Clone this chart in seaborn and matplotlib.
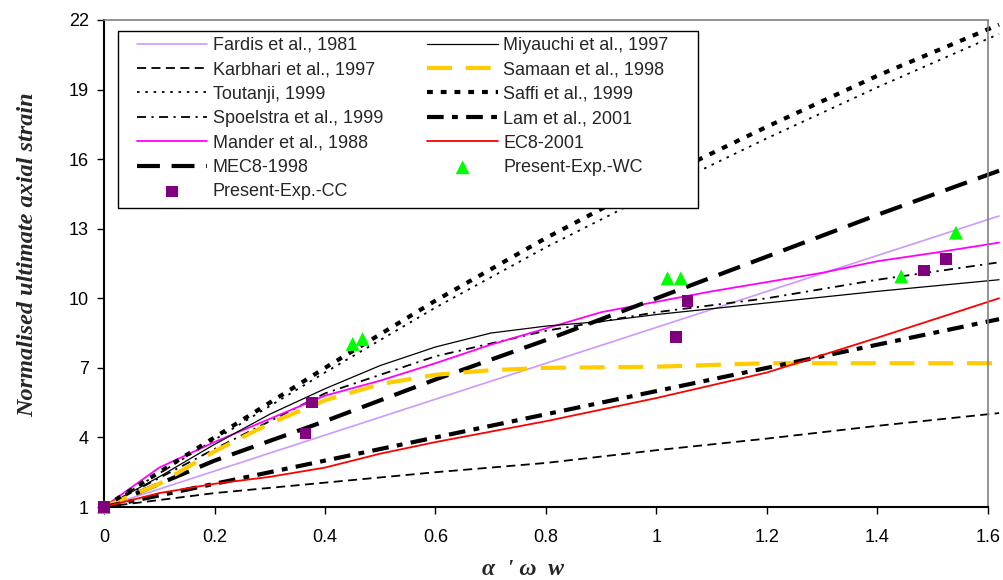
import matplotlib
matplotlib.use("Agg")
import matplotlib.pyplot as plt
from matplotlib.patches import Rectangle
import seaborn as sns
import numpy as np
import pandas as pd

sns.set_style("white")
plt.rcParams['font.family'] = ['Liberation Sans', 'DejaVu Sans']

# ---- data ----
x_fardis = [0, 1.62]
y_fardis = [1, 13.55]

x_miyauchi = [0, 0.1, 0.2, 0.3, 0.4, 0.5, 0.6, 0.7, 0.8, 0.9, 1.0, 1.2, 1.4, 1.62]
y_miyauchi = [1, 2.3, 3.7, 5.0, 6.1, 7.1, 7.9, 8.5, 8.8, 9.0, 9.3, 9.8, 10.3, 10.8]

x_karbhari = [0, 0.2, 0.4, 0.6, 0.8, 1.0, 1.2, 1.4, 1.62]
y_karbhari = [1, 1.6, 2.05, 2.5, 2.9, 3.45, 3.95, 4.5, 5.05]

x_samaan = [0, 0.1, 0.2, 0.3, 0.4, 0.5, 0.6, 0.7, 0.8, 1.0, 1.2, 1.62]
y_samaan = [1, 2.0, 3.4, 4.6, 5.6, 6.3, 6.7, 6.9, 7.0, 7.05, 7.2, 7.2]

x_toutanji = [0, 0.2, 0.4, 0.6, 0.8, 1.0, 1.2, 1.4, 1.62]
y_toutanji = [1, 3.9, 6.8, 9.6, 12.2, 14.6, 16.9, 19.1, 21.4]

x_saffi = [0, 0.2, 0.4, 0.6, 0.8, 1.0, 1.2, 1.4, 1.62]
y_saffi = [1, 4.0, 7.0, 9.9, 12.6, 15.1, 17.4, 19.6, 21.8]

x_spoelstra = [0, 0.2, 0.4, 0.6, 0.8, 1.0, 1.2, 1.4, 1.62]
y_spoelstra = [1, 3.5, 5.9, 7.5, 8.6, 9.4, 10.0, 10.8, 11.55]

x_lam = [0, 0.4, 0.8, 1.2, 1.62]
y_lam = [1, 3.0, 5.0, 7.0, 9.1]

x_mander = [0, 0.1, 0.2, 0.3, 0.4, 0.5, 0.6, 0.7, 0.8, 0.9, 1.0, 1.1, 1.2, 1.3, 1.4, 1.5, 1.62]
y_mander = [1, 2.7, 3.8, 4.8, 5.8, 6.45, 7.2, 8.0, 8.7, 9.4, 9.85, 10.3, 10.7, 11.1, 11.6, 11.95, 12.4]

x_ec8 = [0, 0.1, 0.2, 0.3, 0.4, 0.5, 0.6, 0.8, 1.0, 1.2, 1.4, 1.62]
y_ec8 = [1, 1.6, 2.0, 2.3, 2.7, 3.3, 3.8, 4.7, 5.7, 6.8, 8.3, 10.0]

x_mec8 = [0, 0.2, 0.4, 0.6, 0.8, 1.0, 1.2, 1.4, 1.62]
y_mec8 = [1, 3.0, 4.7, 6.5, 8.2, 10.0, 11.8, 13.6, 15.5]

x_wc = [0, 0.45, 0.468, 1.02, 1.044, 1.443, 1.542]
y_wc = [1, 8.03, 8.24, 10.86, 10.86, 10.94, 12.83]

x_cc = [0, 0.365, 0.377, 1.035, 1.056, 1.484, 1.524]
y_cc = [1, 4.17, 5.5, 8.33, 9.87, 11.2, 11.7]

y_ticks = [1, 4, 7, 10, 13, 16, 19, 22]
x_ticks = [0, 0.2, 0.4, 0.6, 0.8, 1.0, 1.2, 1.4, 1.6]
x_ticklabels = ["0", "0.2", "0.4", "0.6", "0.8", "1", "1.2", "1.4", "1.6"]

# ---- figure ----
W, H = 1004, 580
fig = plt.figure(figsize=(W / 100, H / 100), dpi=100)
AX_L, AX_R, AX_T, AX_B = 104, 988, 20, 507
ax = fig.add_axes([AX_L / W, 1 - AX_B / H, (AX_R - AX_L) / W, (AX_B - AX_T) / H])
aw, ah = AX_R - AX_L, AX_B - AX_T

series = [
    ("Fardis et al., 1981", x_fardis, y_fardis, dict(color="#CC99FF", lw=1.2, ls="-")),
    ("Karbhari et al., 1997", x_karbhari, y_karbhari, dict(color="black", lw=1.3, ls=(0, (5, 3)))),
    ("Toutanji, 1999", x_toutanji, y_toutanji, dict(color="black", lw=1.3, ls=(0, (1.4, 3.2)))),
    ("Spoelstra et al., 1999", x_spoelstra, y_spoelstra, dict(color="black", lw=1.3, ls=(0, (5, 3, 1.2, 3)))),
    ("Mander et al., 1988", x_mander, y_mander, dict(color="#FF00FF", lw=1.3, ls="-")),
    ("MEC8-1998", x_mec8, y_mec8, dict(color="black", lw=3.0, ls=(0, (5.5, 2.8)))),
    ("Miyauchi et al., 1997", x_miyauchi, y_miyauchi, dict(color="black", lw=0.9, ls="-")),
    ("Samaan et al., 1998", x_samaan, y_samaan, dict(color="#FFCC00", lw=3.0, ls=(0, (6, 3.3)))),
    ("Saffi et al., 1999", x_saffi, y_saffi, dict(color="black", lw=3.0, ls=(0, (1.4, 1.9)))),
    ("Lam et al., 2001", x_lam, y_lam, dict(color="black", lw=3.0, ls=(0, (4, 2, 1.4, 2)))),
    ("EC8-2001", x_ec8, y_ec8, dict(color="#FF0000", lw=1.3, ls="-")),
]

for name, xs, ys, st in series:
    df = pd.DataFrame({"x": xs, "y": ys})
    sns.lineplot(data=df, x="x", y="y", ax=ax, color=st["color"], linewidth=st["lw"],
                 linestyle=st["ls"], label=name, clip_on=False, legend=False,
                 estimator=None, sort=False)

sns.scatterplot(x=x_wc, y=y_wc, ax=ax, marker="^", s=100, color="#00FF00",
                edgecolor="none", label="Present-Exp.-WC", clip_on=False, zorder=5, legend=False)
sns.scatterplot(x=x_cc, y=y_cc, ax=ax, marker="s", s=70, color="#800080",
                edgecolor="none", label="Present-Exp.-CC", clip_on=False, zorder=6, legend=False)

ax.set_xlim(0, 1.6)
ax.set_ylim(1, 22)
ax.set_xticks(x_ticks)
ax.set_xticklabels(x_ticklabels)
ax.set_yticks(y_ticks)
ax.tick_params(axis="both", direction="out", length=5, width=1, labelsize=13, colors="black",
               bottom=True, left=True)
ax.tick_params(axis="x", pad=11)
ax.tick_params(axis="y", pad=6)
for s in ["left", "bottom"]:
    ax.spines[s].set_color("black")
    ax.spines[s].set_linewidth(1.5)
for s in ["top", "right"]:
    ax.spines[s].set_color("#808080")
    ax.spines[s].set_linewidth(1.2)

ax.set_xlabel("α  ' ω  w", family=["Liberation Serif", "DejaVu Serif"], fontsize=17,
              fontweight="bold", fontstyle="italic")
ax.xaxis.set_label_coords((523 - AX_L) / aw, (AX_B - 575) / ah)
ax.xaxis.label.set_va("baseline")
ax.set_ylabel("Normalised ultimate axial strain", family=["Liberation Serif", "DejaVu Serif"],
              fontsize=17.5, fontweight="bold", fontstyle="italic")
ax.yaxis.set_label_coords((28 - AX_L) / aw, (AX_B - 255) / ah)
ax.yaxis.label.set_va("center")

h, l = ax.get_legend_handles_labels()
hd = dict(zip(l, h))
order = ["Fardis et al., 1981", "Karbhari et al., 1997", "Toutanji, 1999", "Spoelstra et al., 1999",
         "Mander et al., 1988", "MEC8-1998", "Present-Exp.-CC",
         "Miyauchi et al., 1997", "Samaan et al., 1998", "Saffi et al., 1999", "Lam et al., 2001",
         "EC8-2001", "Present-Exp.-WC"]
# legend frame as in reference: box from (118,31) to (698,208) px
LG_L, LG_R, LG_T, LG_B = 118, 698, 31, 208
ax.add_patch(Rectangle(((LG_L - AX_L) / aw, (AX_B - LG_B) / ah), (LG_R - LG_L) / aw,
                       (LG_B - LG_T) / ah, transform=ax.transAxes, facecolor="white",
                       edgecolor="black", linewidth=1.0, zorder=9, clip_on=False))
leg = ax.legend([hd[k] for k in order], order, ncol=2, loc="upper left",
                bbox_to_anchor=((137 - AX_L) / aw, (AX_B - 37) / ah), borderaxespad=0,
                fontsize=13, frameon=False,
                handlelength=3.9, handletextpad=0.3, columnspacing=2.45,
                labelspacing=0.41, borderpad=0.0, scatterpoints=1)
leg.set_zorder(10)

fig.savefig("out.png", dpi=100)
